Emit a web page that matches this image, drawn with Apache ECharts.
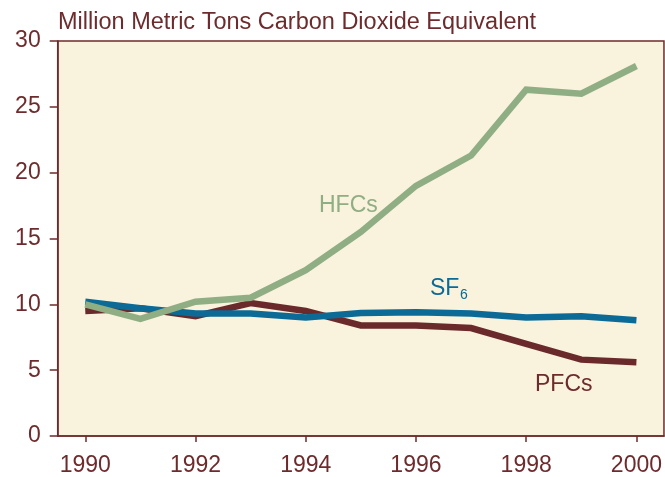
<!DOCTYPE html>
<html>
<head>
<meta charset="utf-8">
<script src="https://cdn.jsdelivr.net/npm/echarts@6/dist/echarts.min.js"></script>
<style>
html,body{margin:0;padding:0;background:#ffffff;}
#c{width:665px;height:477px;}
</style>
</head>
<body>
<div id="c"></div>
<script>
const years = ['1990','1991','1992','1993','1994','1995','1996','1997','1998','1999','2000'];
const hfcs = [10.0, 8.9, 10.2, 10.5, 12.6, 15.5, 19.0, 21.3, 26.3, 26.0, 28.1];
const pfcs = [9.5, 9.7, 9.1, 10.1, 9.5, 8.4, 8.4, 8.2, 7.0, 5.8, 5.6];
const sf6  = [10.2, 9.7, 9.3, 9.3, 9.0, 9.35, 9.4, 9.3, 9.0, 9.1, 8.8];
const yTicks = [0, 5, 10, 15, 20, 25, 30];
const titleText = 'Million Metric Tons Carbon Dioxide Equivalent';

const maroon = '#6e2b2d';
const green = '#8fae84';
const blue = '#0b6a96';
const pfcColor = '#6a2a2b';
const font = 'Liberation Sans, Arial, Helvetica, sans-serif';

const chart = echarts.init(document.getElementById('c'), null, {renderer:'canvas'});
chart.setOption({
  animation: false,
  backgroundColor: '#ffffff',
  title: {
    text: titleText,
    left: 58, top: 11, padding: 0,
    textStyle: {color: maroon, fontSize: 23.5, fontWeight: 'normal', fontFamily: font}
  },
  grid: {
    left: 57.7, right: 1, top: 41, bottom: 40,
    show: true, backgroundColor: '#f9f2dc', borderColor: maroon, borderWidth: 1.5,
    containLabel: false
  },
  xAxis: {
    type: 'category', data: years, boundaryGap: true,
    axisLine: {show: true, lineStyle: {color: maroon, width: 1.5}},
    axisTick: {show: true, alignWithLabel: true, interval: 1, length: 6, lineStyle: {color: maroon, width: 1.5}},
    axisLabel: {interval: 1, color: maroon, fontSize: 23, fontFamily: font, margin: 18},
    splitLine: {show: false}
  },
  yAxis: {
    type: 'value', min: yTicks[0], max: yTicks[yTicks.length-1], interval: 5,
    axisLine: {show: true, lineStyle: {color: maroon, width: 1.5}},
    axisTick: {show: true, length: 8, lineStyle: {color: maroon, width: 1.5}},
    axisLabel: {color: maroon, fontSize: 23, fontFamily: font, margin: 17},
    splitLine: {show: false}
  },
  series: [
    {name: 'PFCs', type: 'line', data: pfcs, symbol: 'none', z: 2,
     lineStyle: {color: pfcColor, width: 6.5, join: 'miter'}},
    {name: 'SF6', type: 'line', data: sf6, symbol: 'none', z: 3,
     lineStyle: {color: blue, width: 6.5, join: 'miter'}},
    {name: 'HFCs', type: 'line', data: hfcs, symbol: 'none', z: 4,
     lineStyle: {color: green, width: 6.5, join: 'miter'}}
  ],
  graphic: [
    {type: 'text', left: 319, top: 194, z: 10,
     style: {text: 'HFCs', fill: green, font: '23px ' + font}},
    {type: 'text', left: 430, top: 277, z: 10,
     style: {text: 'SF', fill: blue, font: '23px ' + font}},
    {type: 'text', left: 460, top: 288, z: 10,
     style: {text: '6', fill: blue, font: '14px ' + font}},
    {type: 'text', left: 535, top: 373, z: 10,
     style: {text: 'PFCs', fill: maroon, font: '23px ' + font}}
  ]
});
</script>
</body>
</html>
